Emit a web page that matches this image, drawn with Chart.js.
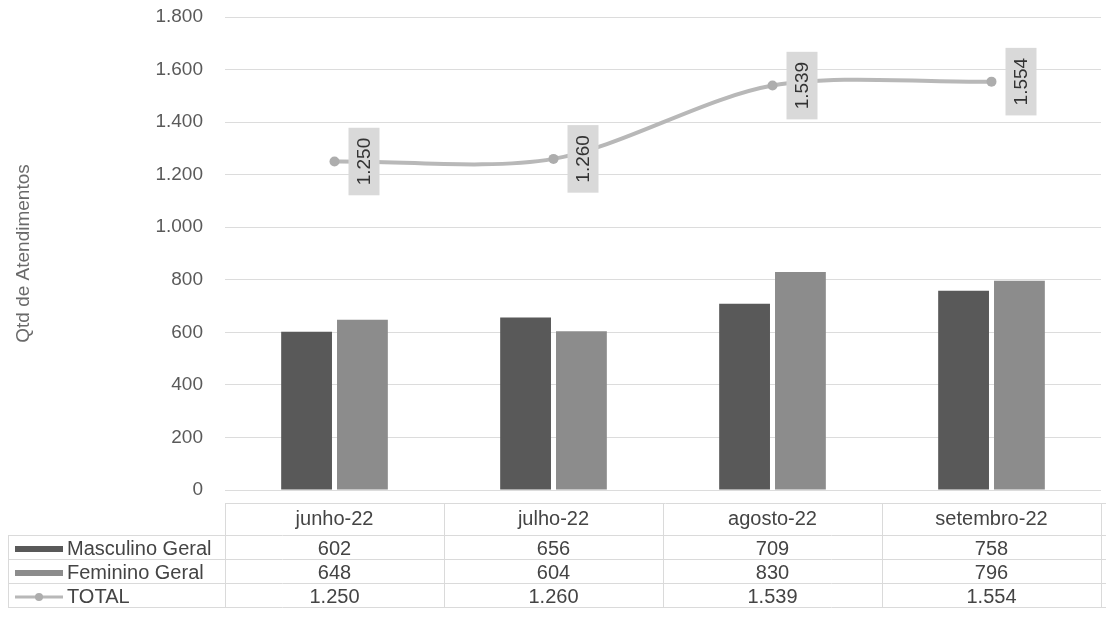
<!DOCTYPE html>
<html>
<head>
<meta charset="utf-8">
<script src="https://cdn.jsdelivr.net/npm/chart.js@4/dist/chart.umd.min.js"></script>
<style>
  body { margin: 0; background: #fff; }
  #wrap { width: 1106px; height: 628px; }
</style>
</head>
<body>
<div id="wrap"><canvas id="atendChart" width="1106" height="628"></canvas></div>
<script>
// dados
const categorias = ['junho-22', 'julho-22', 'agosto-22', 'setembro-22'];
const masculino = [602, 656, 709, 758];
const feminino = [648, 604, 830, 796];
const total = [1250, 1260, 1539, 1554];
const yMin = 0, yMax = 1800, yPasso = 200;

const corMasc = '#595959';
const corFem = '#8c8c8c';
const corTotal = '#b8b8b8';
const fonte = "'Liberation Sans', Arial, sans-serif";

function fmt(v) {
  return String(v).replace(/\B(?=(\d{3})+(?!\d))/g, '.');
}

// rótulos na vertical, com caixa cinza à direita do ponto
const rotulosTotal = {
  id: 'rotulosTotal',
  afterDatasetsDraw(chart) {
    const ctx = chart.ctx;
    const meta = chart.getDatasetMeta(2);
    ctx.save();
    ctx.font = '19px ' + fonte;
    meta.data.forEach((pt, i) => {
      const txt = fmt(total[i]);
      const w = ctx.measureText(txt).width;
      const bx = pt.x + 14, bw = 31, bh = w + 20;
      ctx.fillStyle = '#d9d9d9';
      ctx.fillRect(bx, pt.y - bh / 2, bw, bh);
      ctx.save();
      ctx.translate(bx + bw / 2, pt.y);
      ctx.rotate(-Math.PI / 2);
      ctx.fillStyle = '#333';
      ctx.textAlign = 'center';
      ctx.textBaseline = 'middle';
      ctx.fillText(txt, 0, 1);
      ctx.restore();
    });
    ctx.restore();
  }
};

// tabela de dados abaixo do gráfico
const tabela = {
  id: 'tabela',
  afterDraw(chart) {
    const ctx = chart.ctx;
    const x = chart.scales.x;
    const larg = x.width / categorias.length;
    const left = x.left, right = chart.width;
    const topo = 503, cab = 32, linha = 24;
    const linhas = [
      { nome: 'Masculino Geral', vals: masculino, tipo: 'bar', cor: corMasc },
      { nome: 'Feminino Geral', vals: feminino, tipo: 'bar', cor: corFem },
      { nome: 'TOTAL', vals: total, tipo: 'line', cor: corTotal }
    ];
    const fim = topo + cab + linha * linhas.length;
    ctx.save();
    ctx.strokeStyle = '#dadada';
    ctx.lineWidth = 1;
    ctx.beginPath();
    ctx.moveTo(left, topo + 0.5); ctx.lineTo(right, topo + 0.5);
    for (let r = 0; r <= linhas.length; r++) {
      const yy = Math.round(topo + cab + r * linha) + 0.5;
      ctx.moveTo(8, yy); ctx.lineTo(right, yy);
    }
    ctx.moveTo(8.5, topo + cab); ctx.lineTo(8.5, fim);
    for (let c = 0; c <= categorias.length; c++) {
      const xx = Math.round(left + c * larg) + 0.5;
      ctx.moveTo(xx, topo); ctx.lineTo(xx, fim);
    }
    ctx.stroke();

    ctx.font = '20px ' + fonte;
    ctx.fillStyle = '#444';
    ctx.textAlign = 'center';
    ctx.textBaseline = 'middle';
    categorias.forEach((c, i) => {
      ctx.fillText(c, x.getPixelForValue(i), topo + cab / 2);
    });
    linhas.forEach((l, r) => {
      const cy = topo + cab + r * linha + linha / 2 + 2;
      l.vals.forEach((v, i) => ctx.fillText(fmt(v), x.getPixelForValue(i), cy));
      // marcador da legenda
      if (l.tipo === 'bar') {
        ctx.fillStyle = l.cor;
        ctx.fillRect(15, cy - 3, 48, 6);
      } else {
        ctx.strokeStyle = l.cor;
        ctx.lineWidth = 3;
        ctx.beginPath(); ctx.moveTo(15, cy); ctx.lineTo(63, cy); ctx.stroke();
        ctx.fillStyle = '#adadad';
        ctx.beginPath(); ctx.arc(39, cy, 4, 0, Math.PI * 2); ctx.fill();
      }
      ctx.fillStyle = '#444';
      ctx.textAlign = 'left';
      ctx.fillText(l.nome, 67, cy);
      ctx.textAlign = 'center';
    });
    ctx.restore();
  }
};

const ctx1 = document.getElementById('atendChart').getContext('2d');
new Chart(ctx1, {
  data: {
    labels: categorias,
    datasets: [
      {
        type: 'bar',
        label: 'Masculino Geral',
        data: masculino,
        backgroundColor: corMasc,
        categoryPercentage: 0.51,
        barPercentage: 0.91,
        order: 2
      },
      {
        type: 'bar',
        label: 'Feminino Geral',
        data: feminino,
        backgroundColor: corFem,
        categoryPercentage: 0.51,
        barPercentage: 0.91,
        order: 2
      },
      {
        type: 'line',
        label: 'TOTAL',
        data: total,
        borderColor: corTotal,
        backgroundColor: corTotal,
        borderWidth: 4,
        tension: 0.3,
        pointRadius: 5,
        pointBackgroundColor: '#adadad',
        pointBorderWidth: 0,
        order: 1
      }
    ]
  },
  options: {
    responsive: false,
    animation: false,
    layout: { padding: { top: 17, bottom: 138, left: 0, right: 0 } },
    plugins: { legend: { display: false }, tooltip: { enabled: false } },
    scales: {
      x: { display: false },
      y: {
        min: yMin,
        max: yMax,
        afterFit(scale) {
          scale.width = 225;
          scale.paddingTop = 0;
          scale.paddingBottom = 0;
        },
        border: { display: false },
        grid: { color: '#dcdcdc', drawTicks: false },
        ticks: {
          stepSize: yPasso,
          padding: 22,
          color: '#5a5a5a',
          font: { size: 19, family: fonte },
          callback: v => fmt(v)
        },
        title: {
          display: true,
          text: 'Qtd de Atendimentos',
          color: '#6a6a6a',
          font: { size: 19, family: fonte },
          padding: { top: 12, bottom: 0 }
        }
      }
    }
  },
  plugins: [rotulosTotal, tabela]
});
</script>
</body>
</html>
